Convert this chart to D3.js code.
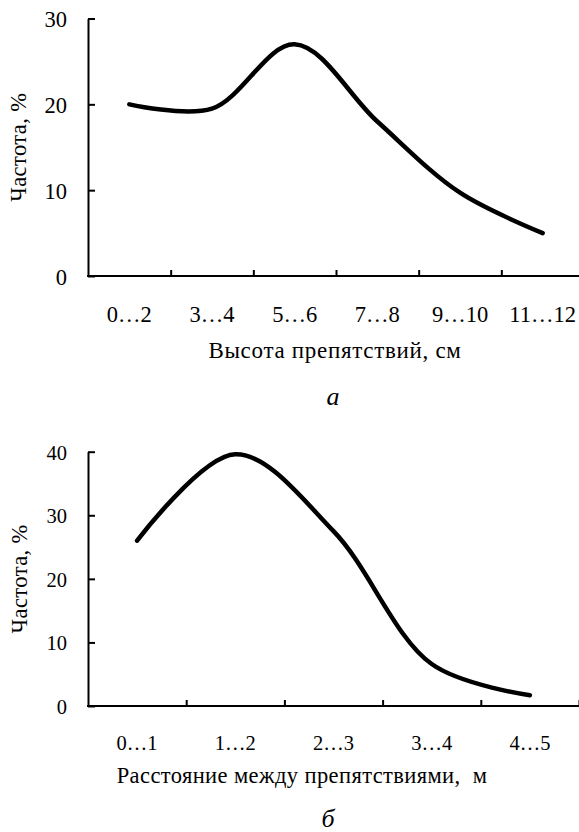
<!DOCTYPE html>
<html>
<head>
<meta charset="utf-8">
<script src="https://cdn.jsdelivr.net/npm/d3@7"></script>
<style>
  html, body { margin: 0; padding: 0; background: #fff; }
  svg { display: block; }
  svg text { font-family: 'Liberation Serif', 'Tinos', 'DejaVu Serif', 'Noto Serif', serif !important; fill: #000; }
</style>
</head>
<body>
<svg id="chart" width="579" height="832"></svg>
<script>
// ---- Data ----
const catsA = ["0…2", "3…4", "5…6", "7…8", "9…10", "11…12"];
const valsA = [20, 19.5, 27, 18, 9.7, 5];
const yTicksA = [0, 10, 20, 30];
const xTitleA = "Высота препятствий, см";
const labelA = "а";

const catsB = ["0…1", "1…2", "2…3", "3…4", "4…5"];
const valsB = [26, 39.6, 27.5, 6.6, 1.7];
const yTicksB = [0, 10, 20, 30, 40];
const xTitleB = "Расстояние между препятствиями,  м";
const labelB = "б";

const yTitle = "Частота, %";

const FONT = "'Liberation Serif', 'Tinos', 'DejaVu Serif', serif";
const svg = d3.select("#chart");

function drawPanel(cfg) {
  const g = svg.append("g");
  const n = cfg.cats.length;
  const x = d3.scaleBand().domain(cfg.cats).range([cfg.x0, cfg.x1]).padding(0);
  const xb = d3.scaleLinear().domain([0, n]).range([cfg.x0, cfg.x1]);
  const y = d3.scaleLinear().domain([0, cfg.yMax]).range([cfg.yBottom, cfg.yTop]);

  // Y axis
  const ya = g.append("g").attr("transform", `translate(${cfg.x0},0)`)
    .call(d3.axisLeft(y).tickValues(cfg.yTicks).tickSizeInner(-7).tickSizeOuter(0).tickPadding(21));
  ya.attr("font-family", null);
  ya.selectAll("path, line").attr("stroke", "#000").attr("stroke-width", 2);
  ya.selectAll("text").style("font-size", cfg.tickFont + "px").style("font-family", FONT)
    .attr("dy", "0.36em");

  // X axis tick marks at category boundaries
  const xa = g.append("g").attr("transform", `translate(0,${cfg.yBottom})`)
    .call(d3.axisBottom(xb).tickValues(d3.range(1, n + 1)).tickSizeInner(-6).tickSizeOuter(0).tickFormat(""));
  xa.select("path.domain").attr("d", `M${cfg.x0 - 1},0H${cfg.x1}`);
  xa.selectAll("path, line").attr("stroke", "#000").attr("stroke-width", 2);

  // X category labels
  const xl = g.append("g").attr("transform", `translate(0,${cfg.yBottom})`)
    .call(d3.axisBottom(x).tickSize(0).tickPadding(cfg.xLabelPad));
  xl.attr("font-family", null);
  xl.select("path.domain").remove();
  xl.selectAll("text").style("font-size", cfg.tickFont + "px").style("font-family", FONT);

  // Curve
  const line = d3.line()
    .x((d, i) => x(cfg.cats[i]) + x.bandwidth() / 2)
    .y(d => y(d))
    .curve(d3.curveCatmullRom.alpha(0.5));
  g.append("path").datum(cfg.vals)
    .attr("d", line)
    .attr("fill", "none")
    .attr("stroke", "#000")
    .attr("stroke-width", 4.5)
    .attr("stroke-linecap", "round")
    .attr("stroke-linejoin", "round");

  // Y title
  g.append("text")
    .attr("transform", `translate(${cfg.yTitleX},${(cfg.yTop + cfg.yBottom) / 2}) rotate(-90)`)
    .attr("text-anchor", "middle")
    .style("font-family", FONT)
    .style("font-size", cfg.yTitleFont + "px")
    .style("letter-spacing", "0.4px")
    .text(yTitle);

  // X title
  g.append("text")
    .attr("x", cfg.xTitleCx).attr("y", cfg.xTitleY)
    .attr("text-anchor", "middle")
    .style("font-family", FONT)
    .style("font-size", cfg.titleFont + "px")
    .style("letter-spacing", cfg.titleSpacing + "px")
    .style("white-space", "pre")
    .text(cfg.xTitle);

  // Panel letter
  g.append("text")
    .attr("x", cfg.letterX).attr("y", cfg.letterY)
    .attr("text-anchor", "middle")
    .style("font-family", FONT)
    .style("font-size", "26px")
    .style("font-style", "italic")
    .text(cfg.letter);
}

drawPanel({
  cats: catsA, vals: valsA, yTicks: yTicksA, yMax: 30,
  x0: 88, x1: 584, yTop: 18.5, yBottom: 276,
  tickFont: 22.5, titleFont: 23, titleSpacing: 0.7, yTitleFont: 22.5, xLabelPad: 30,
  yTitleX: 26, xTitle: xTitleA, xTitleCx: 335, xTitleY: 358,
  letter: labelA, letterX: 333, letterY: 405
});

drawPanel({
  cats: catsB, vals: valsB, yTicks: yTicksB, yMax: 40,
  x0: 88, x1: 579, yTop: 451.7, yBottom: 706,
  tickFont: 20.5, titleFont: 22.5, titleSpacing: 0.4, yTitleFont: 22.5, xLabelPad: 29.5,
  yTitleX: 27, xTitle: xTitleB, xTitleCx: 302, xTitleY: 783,
  letter: labelB, letterX: 328, letterY: 827
});
</script>
</body>
</html>
